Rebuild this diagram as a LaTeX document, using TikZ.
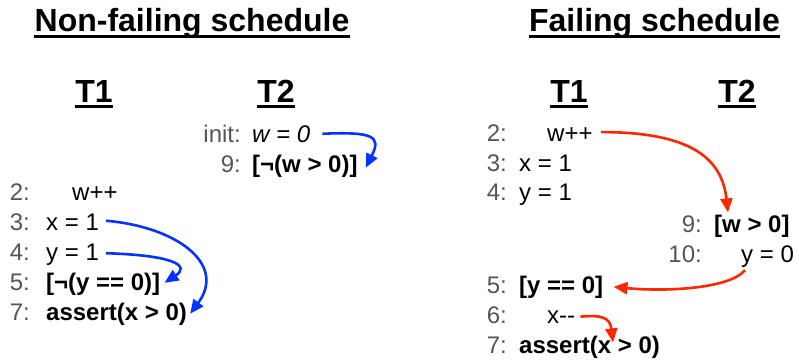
\documentclass[tikz,border=0pt]{standalone}
\usepackage{fontspec}
\setmainfont{Liberation Sans}
\usetikzlibrary{arrows.meta,calc}
\definecolor{blueberry}{HTML}{0433FF}
\definecolor{maraschino}{HTML}{FF2600}
\definecolor{numgray}{HTML}{555555}
\begin{document}
\begin{tikzpicture}[x=1pt,y=-1pt,
  titletext/.style={font=\bfseries\fontsize{32}{38}\selectfont, inner sep=0pt, anchor=base},
  numtext/.style={font=\fontsize{24}{28}\selectfont, text=numgray, inner sep=0pt, anchor=base east},
  codetext/.style={font=\fontsize{24}{28}\selectfont, inner sep=0pt, anchor=base west},
  boldcode/.style={codetext, font=\bfseries\fontsize{24}{28}\selectfont},
  uline/.style={line width=2.6pt},
  bluearrow/.style={draw=blueberry, line width=2.6pt, -{Triangle[length=14pt,width=12pt]}},
  redarrow/.style={draw=maraschino, line width=2.6pt, -{Triangle[length=14pt,width=12pt]}}
]
\useasboundingbox (0,0) rectangle (799,361);

% titles
\node[titletext] (ntitle) at (192,31) {Non-failing schedule};
\node[titletext] (ftitle) at (654.5,31) {Failing schedule};
\node[titletext] (lt1) at (94,102) {T1};
\node[titletext] (lt2) at (276,102) {T2};
\node[titletext] (rt1) at (569,102) {T1};
\node[titletext] (rt2) at (737,102) {T2};
\foreach \t in {ntitle,ftitle}
  \draw[uline] ([yshift=-5.5pt]\t.base west) -- ([yshift=-5.5pt]\t.base east);
\foreach \t in {lt1,lt2,rt1,rt2}
  \draw[uline] ([yshift=-4.5pt]\t.base west) -- ([yshift=-4.5pt]\t.base east);

% non-failing, T2
\node[numtext] (lninit) at (241,142) {init:};
\node[codetext] (lcinit) at (252,142) {\itshape w = 0};
\node[numtext] (ln9) at (241,172) {9:};
\node[boldcode] (lc9) at (252,172) {[¬(w > 0)]};

% non-failing, T1
\node[numtext] (ln2) at (30,200) {2:};
\node[codetext] (lc2) at (72,200) {w++};
\node[numtext] (ln3) at (30,230) {3:};
\node[codetext] (lc3) at (46,230) {x = 1};
\node[numtext] (ln4) at (30,260) {4:};
\node[codetext] (lc4) at (46,260) {y = 1};
\node[numtext] (ln5) at (30,290) {5:};
\node[boldcode] (lc5) at (46,290) {[¬(y == 0)]};
\node[numtext] (ln7) at (30,320) {7:};
\node[boldcode] (lc7) at (46,320) {assert(x > 0)};

% failing, T1 and T2
\node[numtext] (rn2) at (507,141) {2:};
\node[codetext] (rc2) at (547,141) {w++};
\node[numtext] (rn3) at (507,171) {3:};
\node[codetext] (rc3) at (519,171) {x = 1};
\node[numtext] (rn4) at (507,200) {4:};
\node[codetext] (rc4) at (519,200) {y = 1};
\node[numtext] (rn9) at (702,232) {9:};
\node[boldcode] (rc9) at (714,232) {[w > 0]};
\node[numtext] (rn10) at (702,262) {10:};
\node[codetext] (rc10) at (741,262) {y = 0};
\node[numtext] (rn5) at (507,293) {5:};
\node[boldcode] (rc5) at (519,293) {[y == 0]};
\node[numtext] (rn6) at (507,323) {6:};
\node[codetext] (rc6) at (547,323) {x-{}-};
\node[numtext] (rn7) at (507,353) {7:};
\node[boldcode] (rc7) at (519,353) {assert(x > 0)};

% blue arrows
\draw[bluearrow] ($(lcinit.east)+(12,0)$) .. controls ($(lcinit.east)+(62,-2)$) and ($(lc9.east)+(24,-30)$) .. ($(lc9.east)+(8,2)$);
\draw[bluearrow] ($(lc3.east)+(7,-1)$) .. controls ($(lc3.east)+(77,5)$) and ($(lc7.east)+(40,-50)$) .. ($(lc7.east)+(3,0)$);
\draw[bluearrow] ($(lc4.east)+(7,-1)$) .. controls ($(lc4.east)+(75,1)$) and ($(lc5.east)+(30,-18)$) .. ($(lc5.east)+(4,-1)$);

% red arrows
\draw[redarrow] ($(rc2.east)+(8,-2)$) .. controls ($(rc2.east)+(100,-2)$) and ($(rc9.north west)+(8,-55)$) .. ($(rc9.north west)+(14,-2)$);
\draw[redarrow] ($(rc10.south west)+(4,3)$) .. controls ($(rc10.south west)+(-12,22)$) and ($(rc5.east)+(60,5)$) .. ($(rc5.east)+(10,0)$);
\draw[redarrow] ($(rc6.east)+(5,0)$) .. controls ($(rc6.east)+(26,-2)$) and ($(rc7.north west)+(91,-18)$) .. ($(rc7.north west)+(94,7)$);
\end{tikzpicture}
\end{document}
